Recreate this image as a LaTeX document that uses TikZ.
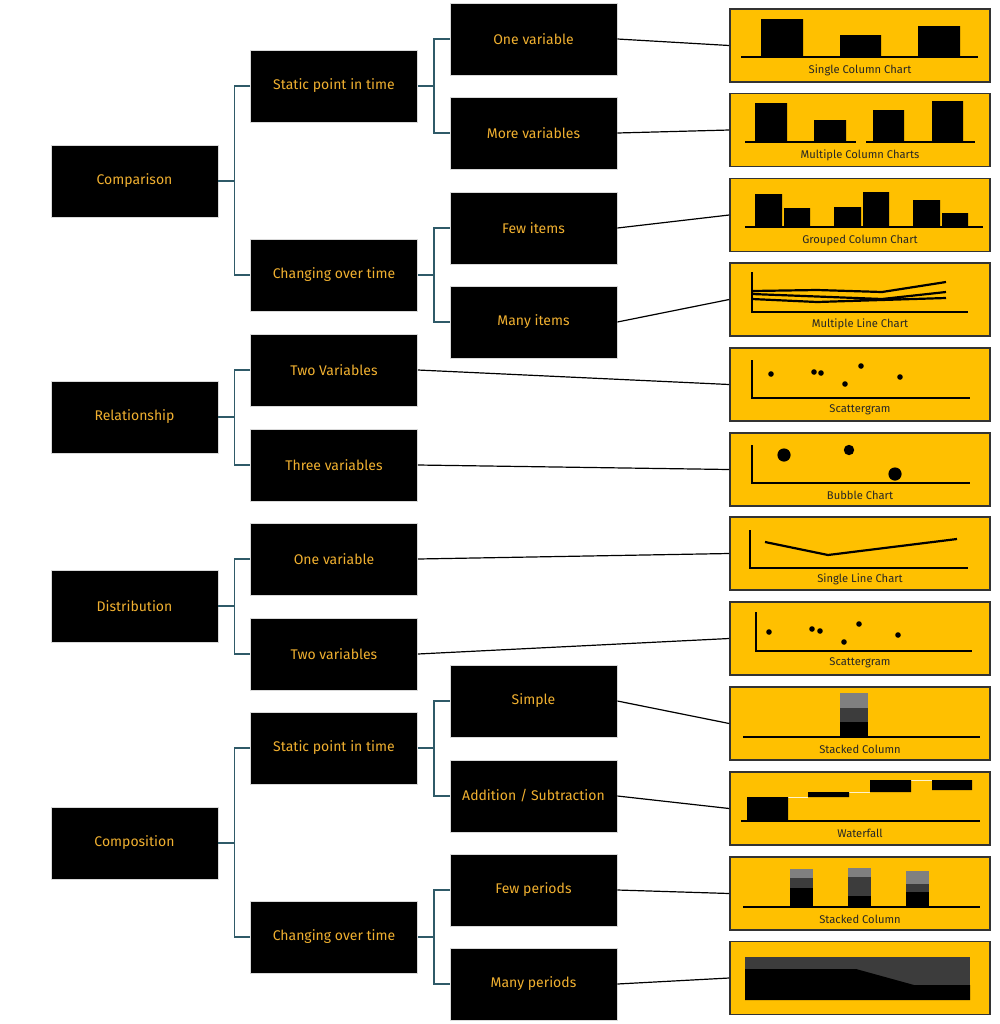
\documentclass[tikz,border=0pt]{standalone}
\usepackage{fontspec}
\setmainfont{Fira Sans}
\definecolor{Gold}{RGB}{255,192,0}
\definecolor{Label}{RGB}{240,176,48}
\definecolor{Stem}{RGB}{47,90,104}
\definecolor{Mid}{RGB}{60,60,60}
\definecolor{Light}{RGB}{128,128,128}
\tikzstyle{block} = [rectangle, draw=white!85!black, fill=black, text=Label,
    font=\fontsize{7}{8}\selectfont, minimum width=83.5pt, minimum height=36pt, inner sep=0pt]
\tikzstyle{chart} = [rectangle, draw=black!80, line width=0.8pt, fill=Gold,
    minimum width=130pt, minimum height=36.5pt, inner sep=0pt]
\tikzstyle{tree} = [draw=Stem, line width=0.6pt]
\tikzstyle{link} = [draw, line width=0.6pt]
\tikzstyle{chartcap} = [font=\fontsize{5.6}{6}\selectfont, text=black!85]
\begin{document}
\begin{tikzpicture}[x=0.5pt, y=-0.5pt]
  \useasboundingbox (0,0) rectangle (1000,1024);
  % first level
  \node [block] (Comp) at (134.5,181) {Comparison};
  \node [block] (Rel) at (134.5,417) {Relationship};
  \node [block] (Dist) at (134.5,606) {Distribution};
  \node [block] (Compo) at (134.5,843) {Composition};
  % second level
  \node [block] (CompStatic) at (334,86) {Static point in time};
  \node [block] (CompChange) at (334,275) {Changing over time};
  \node [block] (RelTwo) at (334,370) {Two Variables};
  \node [block] (RelThree) at (334,465) {Three variables};
  \node [block] (DistOne) at (334,559) {One variable};
  \node [block] (DistTwo) at (334,654) {Two variables};
  \node [block] (CompoStatic) at (334,748) {Static point in time};
  \node [block] (CompoChange) at (334,937) {Changing over time};
  % third level
  \node [block] (OneVar) at (533.5,39) {One variable};
  \node [block] (MoreVar) at (533.5,133) {More variables};
  \node [block] (FewItems) at (533.5,228) {Few items};
  \node [block] (ManyItems) at (533.5,322) {Many items};
  \node [block] (Simple) at (533.5,701) {Simple};
  \node [block] (AddSub) at (533.5,796) {Addition / Subtraction};
  \node [block] (FewPer) at (533.5,890) {Few periods};
  \node [block] (ManyPer) at (533.5,984) {Many periods};
  % charts
  \node [chart] (SingleCol) at (860,45.5) {};
  \node [chart] (MultiCol) at (860,130) {};
  \node [chart] (Grouped) at (860,215) {};
  \node [chart] (MultiLine) at (860,299.5) {};
  \node [chart] (Scatter) at (860,384.5) {};
  \node [chart] (Bubble) at (860,469.5) {};
  \node [chart] (SingleLine) at (860,553.5) {};
  \node [chart] (ScatterB) at (860,638.5) {};
  \node [chart] (Stacked) at (860,723.5) {};
  \node [chart] (Waterfall) at (860,808.5) {};
  \node [chart] (StackedB) at (860,893.5) {};
  \node [chart] (Area) at (860,978) {};
  %
  \foreach \p/\a/\b in {Comp/CompStatic/CompChange, Rel/RelTwo/RelThree,
      Dist/DistOne/DistTwo, Compo/CompoStatic/CompoChange,
      CompStatic/OneVar/MoreVar, CompChange/FewItems/ManyItems,
      CompoStatic/Simple/AddSub, CompoChange/FewPer/ManyPer}
    \path [tree] (\p.east) -- +(8pt,0) coordinate (s) (\a.west) -| (s) |- (\b.west);
  %
  \foreach \a/\b in {OneVar/SingleCol, MoreVar/MultiCol, FewItems/Grouped,
      ManyItems/MultiLine, RelTwo/Scatter, RelThree/Bubble, DistOne/SingleLine,
      DistTwo/ScatterB, Simple/Stacked, AddSub/Waterfall, FewPer/StackedB, ManyPer/Area}
    \path [link] (\a.east) -- (\b.west);
  %
  % single column chart
  \fill (761,19) rectangle (803,57) (840,35) rectangle (881,57) (918,26) rectangle (960,57);
  \draw [line width=0.8pt] (741,57) -- (978,57);
  \node [chartcap] at (860,70) {Single Column Chart};
  % multiple column charts
  \fill (755,103) rectangle (787,142) (814,120) rectangle (846,142)
        (873,110) rectangle (904,142) (932,101) rectangle (963,142);
  \draw [line width=0.8pt] (745,142) -- (856,142) (866,142) -- (975,142);
  \node [chartcap] at (860,155) {Multiple Column Charts};
  % grouped column chart
  \fill (755,194) rectangle (782,227) (784,208) rectangle (810,227)
        (834,207) rectangle (861,227) (863,192) rectangle (889,227)
        (913,200) rectangle (940,227) (942,213) rectangle (968,227);
  \draw [line width=0.8pt] (745,227) -- (983,227);
  \node [chartcap] at (860,240) {Grouped Column Chart};
  % multiple line chart
  \draw [line width=0.8pt] (752,272) -- (752,312) -- (968,312);
  \draw [line width=1.1pt] (752,291) -- (817,290) -- (882,292) -- (946,282)
        (752,294) -- (882,299) -- (946,292) (752,299) -- (817,302) -- (946,298);
  \node [chartcap] at (860,324) {Multiple Line Chart};
  % scattergram
  \draw [line width=0.8pt] (752,360) -- (752,398) -- (970,398);
  \foreach \x/\y in {771/374, 814/372, 821/373, 861/366, 845/384, 900/377}
    \fill (\x,\y) circle (1.4pt);
  \node [chartcap] at (860,410) {Scattergram};
  % bubble chart
  \draw [line width=0.8pt] (752,445) -- (752,483) -- (970,483);
  \fill (784,455) circle (3.3pt) (849,450) circle (2.6pt) (895,474) circle (3.3pt);
  \node [chartcap] at (860,495) {Bubble Chart};
  % single line chart
  \draw [line width=0.8pt] (750,530) -- (750,568) -- (968,568);
  \draw [line width=1.1pt] (765,542) -- (828,555) -- (957,539);
  \node [chartcap] at (860,579) {Single Line Chart};
  % scattergram again
  \draw [line width=0.8pt] (756,612) -- (756,651) -- (972,651);
  \foreach \x/\y in {769/632, 812/629, 820/631, 859/624, 844/642, 898/635}
    \fill (\x,\y) circle (1.4pt);
  \node [chartcap] at (860,663) {Scattergram};
  % stacked column
  \fill (840,722) rectangle (868,737);
  \fill [Mid] (840,708) rectangle (868,722);
  \fill [Light] (840,693) rectangle (868,708);
  \draw [line width=0.8pt] (743,737) -- (980,737);
  \node [chartcap] at (860,749) {Stacked Column};
  % waterfall
  \draw [white!80!Gold, line width=0.4pt] (788,797) -- (808,797) (849,792) -- (870,792) (911,780) -- (932,780);
  \fill (747,797) rectangle (788,821) (808,792) rectangle (849,797)
        (870,780) rectangle (911,792) (932,780) rectangle (972,790);
  \draw [line width=0.8pt] (741,821) -- (980,821);
  \node [chartcap] at (860,833) {Waterfall};
  % stacked columns
  \foreach \x/\a/\b/\c in {790/888/878/869, 848/896/877/868, 906/892/884/871} {
    \fill (\x,\a) rectangle (\x+23,907);
    \fill [Mid] (\x,\b) rectangle (\x+23,\a);
    \fill [Light] (\x,\c) rectangle (\x+23,\b);
  }
  \draw [line width=0.8pt] (743,907) -- (980,907);
  \node [chartcap] at (860,919) {Stacked Column};
  % stacked area
  \fill [Mid] (745,957) rectangle (970,1000);
  \fill (745,969) -- (856,969) -- (914,985) -- (970,985) -- (970,1000) -- (745,1000) -- cycle;
\end{tikzpicture}
\end{document}
